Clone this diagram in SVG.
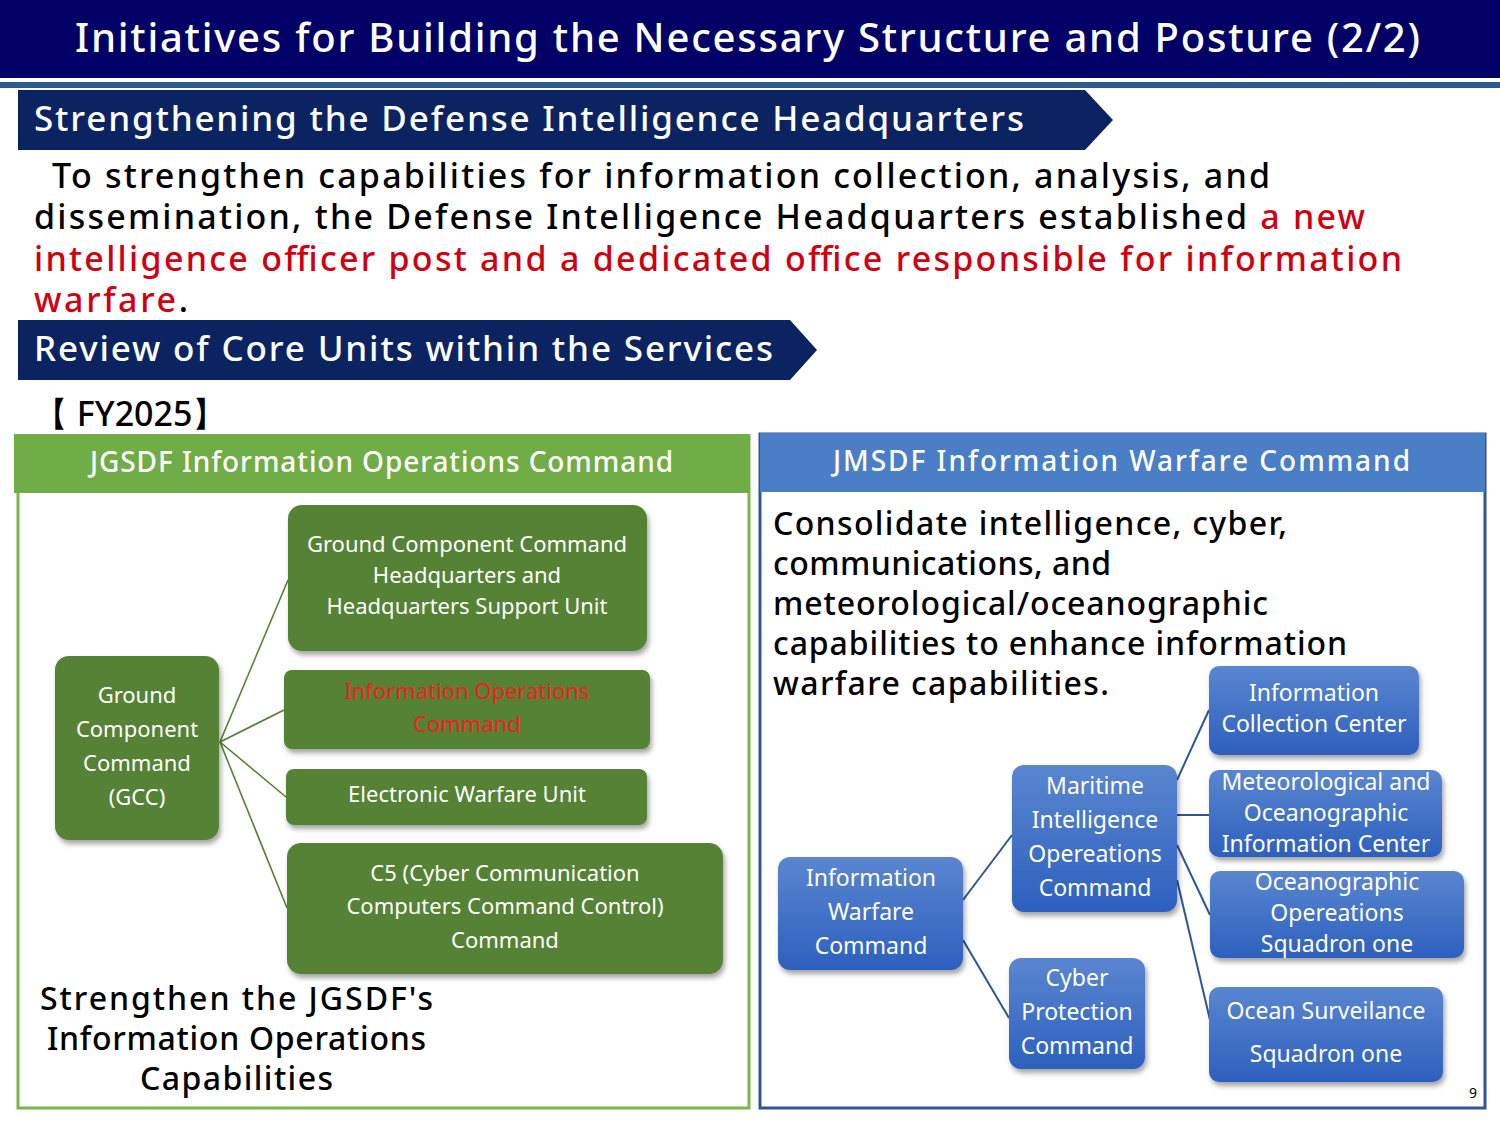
<svg xmlns="http://www.w3.org/2000/svg" width="1500" height="1125" viewBox="0 0 1500 1125">
<defs>
<linearGradient id="bg" x1="0" y1="0" x2="0" y2="1"><stop offset="0" stop-color="#5a86d0"/><stop offset="1" stop-color="#2d60be"/></linearGradient>
<filter id="sh" x="-10%" y="-10%" width="130%" height="130%"><feDropShadow dx="2" dy="4" stdDeviation="2.5" flood-opacity="0.35"/></filter>
</defs>
<style>
text{font-family:"Noto Sans","DejaVu Sans",sans-serif}
.w{fill:#fff;font-weight:500}
.g{fill:#548235;filter:url(#sh)}
.b{fill:url(#bg);filter:url(#sh)}
.gt{fill:#fff;font-size:22px;text-anchor:middle}
.bt{fill:#fff;font-size:23px;text-anchor:middle}
.p{font-size:34px;fill:#000;font-weight:500}
.q{font-size:32px;fill:#000;font-weight:500}
.r{fill:#d00010}
</style>
<rect x="0" y="0" width="1500" height="78" fill="#000066"/>
<rect x="0" y="82" width="1500" height="6" fill="#2f5a8c"/>
<text x="75" y="52" class="w" font-size="40" textLength="1345" lengthAdjust="spacing">Initiatives for Building the Necessary Structure and Posture (2/2)</text>
<polygon points="18,90 1085,90 1113,120 1085,150 18,150" fill="#0b2461"/>
<text x="34" y="131" class="w" font-size="35" textLength="990" lengthAdjust="spacing">Strengthening the Defense Intelligence Headquarters</text>
<text class="p" x="52" y="188" textLength="1218" lengthAdjust="spacing">To strengthen capabilities for information collection, analysis, and</text>
<text class="p" x="34" y="229" textLength="1331" lengthAdjust="spacing">dissemination, the Defense Intelligence Headquarters established <tspan class="r">a new</tspan></text>
<text class="p r" x="34" y="271" textLength="1368" lengthAdjust="spacing">intelligence officer post and a dedicated office responsible for information</text>
<text class="p" x="34" y="312" textLength="154" lengthAdjust="spacing"><tspan class="r">warfare</tspan>.</text>
<polygon points="18,320 790,320 817,350 790,380 18,380" fill="#0b2461"/>
<text x="34" y="361" class="w" font-size="35" textLength="739" lengthAdjust="spacing">Review of Core Units within the Services</text>
<text class="p" x="34" y="426">【 FY2025】</text>

<g id="gsdf-panel">
<rect x="18" y="436" width="731" height="672" fill="#fff" stroke="#7ab648" stroke-width="3"/>
<rect x="14" y="434" width="736" height="59" fill="#70ad47"/>
<text x="90" y="472" class="w" font-size="28" textLength="583" lengthAdjust="spacing">JGSDF Information Operations Command</text>
<text x="40" y="1010" class="q" textLength="393" lengthAdjust="spacing">Strengthen the JGSDF's</text>
<text x="47" y="1050" class="q" textLength="379" lengthAdjust="spacing">Information Operations</text>
<text x="140" y="1090" class="q" textLength="193" lengthAdjust="spacing">Capabilities</text>
</g>
<g id="msdf-panel">
<rect x="760" y="434" width="725" height="674" fill="#fff" stroke="#2f5597" stroke-width="3"/>
<rect x="760" y="433" width="725" height="59" fill="#4a7ec6"/>
<text x="833" y="471" class="w" font-size="28" textLength="577" lengthAdjust="spacing">JMSDF Information Warfare Command</text>
<text class="q" x="773" y="535" textLength="514" lengthAdjust="spacing">Consolidate intelligence, cyber,</text>
<text class="q" x="773" y="575" textLength="338" lengthAdjust="spacing">communications, and</text>
<text class="q" x="773" y="615" textLength="495" lengthAdjust="spacing">meteorological/oceanographic</text>
<text class="q" x="773" y="655" textLength="574" lengthAdjust="spacing">capabilities to enhance information</text>
<text class="q" x="773" y="695" textLength="336" lengthAdjust="spacing">warfare capabilities.</text>
<text x="1469" y="1098" font-size="14" fill="#000">9</text>
</g>

<g id="connectors" fill="none" stroke-width="1.6">
<g stroke="#548235">
<line x1="220" y1="742" x2="288" y2="580"/>
<line x1="220" y1="742" x2="284" y2="710"/>
<line x1="220" y1="742" x2="286" y2="797"/>
<line x1="220" y1="742" x2="287" y2="908"/>
</g>
<g stroke="#2f5597" stroke-width="2">
<line x1="963" y1="900" x2="1012" y2="835"/>
<line x1="963" y1="940" x2="1009" y2="1018"/>
<line x1="1177" y1="780" x2="1209" y2="710"/>
<line x1="1177" y1="815" x2="1209" y2="815"/>
<line x1="1177" y1="845" x2="1210" y2="915"/>
<line x1="1177" y1="880" x2="1210" y2="1020"/>
</g>
</g>

<g id="gcc"><rect class="g" x="55" y="656" width="164" height="184" rx="14"/>
<text class="gt" font-size="24" x="137" y="703">Ground</text><text class="gt" font-size="24" x="137" y="737">Component</text><text class="gt" font-size="24" x="137" y="771">Command</text><text class="gt" font-size="24" x="137" y="805">(GCC)</text></g>
<g id="gcc-hq"><rect class="g" x="288" y="505" width="359" height="146" rx="14"/>
<text class="gt" x="467" y="552">Ground Component Command</text><text class="gt" x="467" y="583">Headquarters and</text><text class="gt" x="467" y="614">Headquarters Support Unit</text></g>
<g id="ioc"><rect class="g" x="284" y="670" width="366" height="79" rx="8"/>
<text class="gt" x="467" y="699" style="fill:#ff1a1a">Information Operations</text><text class="gt" x="467" y="732" style="fill:#ff1a1a">Command</text></g>
<g id="ewu"><rect class="g" x="286" y="769" width="361" height="56" rx="8"/>
<text class="gt" x="467" y="802">Electronic Warfare Unit</text></g>
<g id="c5"><rect class="g" x="287" y="843" width="436" height="131" rx="14"/>
<text class="gt" font-size="23" x="505" y="881">C5 (Cyber Communication</text><text class="gt" font-size="23" x="505" y="914">Computers Command Control)</text><text class="gt" font-size="23" x="505" y="948">Command</text></g>

<g id="iwc"><rect class="b" x="778" y="857" width="185" height="113" rx="12"/>
<text class="bt" x="871" y="886">Information</text><text class="bt" x="871" y="920">Warfare</text><text class="bt" x="871" y="954">Command</text></g>
<g id="mioc"><rect class="b" x="1012" y="765" width="165" height="147" rx="12"/>
<text class="bt" x="1095" y="794">Maritime</text><text class="bt" x="1095" y="828">Intelligence</text><text class="bt" x="1095" y="862">Opereations</text><text class="bt" x="1095" y="896">Command</text></g>
<g id="cpc"><rect class="b" x="1009" y="958" width="136" height="111" rx="12"/>
<text class="bt" x="1077" y="986">Cyber</text><text class="bt" x="1077" y="1020">Protection</text><text class="bt" x="1077" y="1054">Command</text></g>
<g id="icc"><rect class="b" x="1209" y="666" width="210" height="89" rx="10"/>
<text class="bt" font-size="21" x="1314" y="701">Information</text><text class="bt" font-size="21" x="1314" y="732">Collection Center</text></g>
<g id="moic"><rect class="b" x="1209" y="770" width="233" height="87" rx="10"/>
<text class="bt" font-size="21" x="1326" y="790">Meteorological and</text><text class="bt" font-size="21" x="1326" y="821">Oceanographic</text><text class="bt" font-size="21" x="1326" y="852">Information Center</text></g>
<g id="oos"><rect class="b" x="1210" y="871" width="254" height="87" rx="10"/>
<text class="bt" font-size="21" x="1337" y="890">Oceanographic</text><text class="bt" font-size="21" x="1337" y="921">Opereations</text><text class="bt" font-size="21" x="1337" y="952">Squadron one</text></g>
<g id="oss"><rect class="b" x="1209" y="987" width="234" height="95" rx="10"/>
<text class="bt" font-size="21" x="1326" y="1019">Ocean Surveilance</text><text class="bt" font-size="21" x="1326" y="1062">Squadron one</text></g>
</svg>
